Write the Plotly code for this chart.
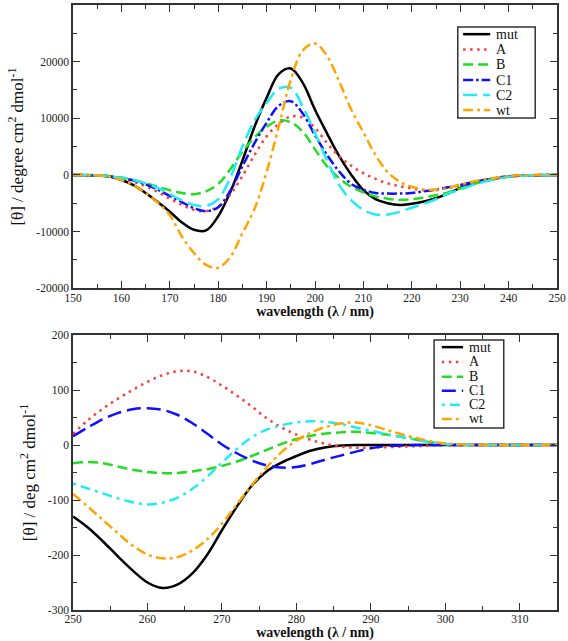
import plotly.graph_objects as go

# ---------------- data: far-UV (top panel) ----------------
wl_top = [150, 155, 157.5, 160, 162.5, 165, 167.5, 170, 172.5, 175, 177.5, 180, 182.5,
          185, 187.5, 190, 192.5, 195, 197.5, 200, 202.5, 205, 207.5, 210, 212.5, 215,
          217.5, 220, 222.5, 225, 227.5, 230, 232.5, 235, 240, 245, 250]
top_mut = [0, -100, -300, -900, -1800, -3200, -4800, -6500, -8400, -9700, -9800, -7300, -3000,
           2500, 8500, 13600, 17800, 18800, 16200, 11500, 7300, 3300, 0, -2700, -4300, -5000,
           -5300, -5100, -4700, -4100, -3300, -2300, -1600, -1000, -300, -50, 0]
top_A = [0, -100, -250, -600, -1200, -2000, -3000, -4200, -5300, -6200, -6400, -5600, -3500,
         -200, 3500, 6800, 9000, 10300, 10100, 8300, 5600, 3300, 1600, 300, -700, -1500,
         -2000, -2400, -2700, -2700, -2300, -1900, -1400, -900, -250, -50, 0]
top_B = [0, -80, -200, -450, -900, -1500, -2100, -2700, -3200, -3400, -2900, -1600, 1000,
         4100, 6600, 8500, 9600, 9300, 7600, 4500, 1500, -600, -2100, -3100, -3800, -4200,
         -4400, -4300, -4000, -3600, -3100, -2400, -1700, -1100, -300, -50, 0]
top_C1 = [0, -80, -250, -550, -1000, -1700, -2600, -3700, -4800, -5900, -6400, -5700, -2800,
          1500, 5600, 9200, 12200, 13000, 10800, 7000, 3500, 600, -1600, -2600, -3200, -3300,
          -3300, -3200, -2900, -2600, -2200, -1800, -1300, -900, -250, -50, 0]
top_C2 = [0, -80, -250, -500, -900, -1500, -2300, -3400, -4500, -5300, -5500, -4300, -500,
          5000, 9600, 12700, 15200, 15400, 12000, 7400, 2500, -1800, -4500, -6200, -7000, -7000,
          -6500, -5800, -5100, -4300, -3300, -2600, -1800, -1200, -350, -50, 0]
top_wt = [0, -100, -300, -900, -1800, -3200, -4900, -7100, -10900, -13800, -15900, -16400, -14500,
          -10300, -6000, 500, 8500, 16800, 22000, 23200, 21000, 16500, 11500, 7500, 3500, 500,
          -1200, -2100, -2600, -2600, -2300, -1700, -1200, -800, -200, -30, 0]

# ---------------- data: near-UV (bottom panel) ----------------
wl_bot = [250, 252, 254, 256, 258, 260, 262, 264, 266, 268, 270, 272, 274, 276, 278, 280,
          282, 284, 286, 288, 290, 292, 294, 296, 298, 300, 305, 310, 315]
bot_mut = [-130, -150, -175, -202, -228, -250, -260, -254, -234, -200, -155, -112, -74, -48,
           -32, -20, -10, -4, -1, 0, 0, 0, 0, 0, 0, 0, 0, 0, 0]
bot_A = [20, 45, 66, 84, 100, 115, 127, 134, 134, 124, 108, 90, 70, 49, 32, 19,
         9, 2, -3, -5, -5, -4, -3, -2, -1, 0, 0, 0, 0]
bot_B = [-33, -31, -33, -39, -45, -49, -51, -51, -48, -44, -38, -30, -20, -9, 2, 11,
         17, 21, 23, 24, 22, 19, 15, 10, 5, 2, 0, 0, 0]
bot_C1 = [16, 32, 47, 58, 65, 67, 64, 55, 40, 21, 1, -15, -28, -37, -41, -40,
          -34, -26, -19, -12, -6, -2, -1, 0, 0, 0, 0, 0, 0]
bot_C2 = [-70, -79, -88, -97, -104, -108, -105, -96, -80, -58, -32, -7, 14, 28, 36, 41,
          43, 42, 38, 32, 26, 20, 15, 10, 5, 2, 0, 0, 0]
bot_wt = [-89, -112, -136, -160, -183, -199, -206, -204, -192, -172, -143, -108, -73, -41, -13, 8,
          23, 33, 39, 41, 36, 28, 20, 13, 7, 3, 0, 0, 0]

series_names = ["mut", "A", "B", "C1", "C2", "wt"]
series_colors = ["#000000", "#ff3b3b", "#22dd22", "#1010ff", "#20ecf4", "#ffa500"]
top_dashes = ["solid", "2.5px,4.5px", "10px,5px", "10px,3px,2.5px,3px", "14px,6px", "10px,4px,3px,4px"]
bot_dashes = ["solid", "2.5px,4.5px", "10px,5px", "14px,6px", "3px,5px,10px,5px", "10px,4px,3px,4px"]

top_xticks = [150, 160, 170, 180, 190, 200, 210, 220, 230, 240, 250]
top_yticks = [-20000, -10000, 0, 10000, 20000, 30000]
top_yticktext = ["-20000", "-10000", "0", "10000", "20000", "30000"]
bot_xticks = [250, 260, 270, 280, 290, 300, 310]
bot_yticks = [-300, -200, -100, 0, 100, 200]
bot_yticktext = ["-300", "-200", "-100", "0", "100", "200"]

FONT = "Liberation Serif, Times New Roman, serif"

fig = go.Figure()

top_series = [top_mut, top_A, top_B, top_C1, top_C2, top_wt]
bot_series = [bot_mut, bot_A, bot_B, bot_C1, bot_C2, bot_wt]

for name, col, dsh, ys in zip(series_names, series_colors, top_dashes, top_series):
    fig.add_trace(go.Scatter(x=wl_top, y=ys, name=name, mode="lines", showlegend=False,
                             line=dict(color=col, width=2.5, dash=dsh, shape="spline", smoothing=1.0),
                             xaxis="x", yaxis="y"))
for name, col, dsh, ys in zip(series_names, series_colors, bot_dashes, bot_series):
    fig.add_trace(go.Scatter(x=wl_bot, y=ys, name=name, mode="lines", showlegend=False,
                             line=dict(color=col, width=2.5, dash=dsh, shape="spline", smoothing=1.0),
                             xaxis="x2", yaxis="y2"))

# ---------------- hand-drawn legend boxes (domain coordinates) ----------------
def add_legend(xref, yref, box, rows_y, sample_x, text_x, dashes):
    fig.add_shape(type="rect", xref=xref, yref=yref, x0=box[0], x1=box[1], y0=box[2], y1=box[3],
                  line=dict(color="#333", width=1.5), fillcolor="white", layer="above")
    for name, col, dsh, yy in zip(series_names, series_colors, dashes, rows_y):
        fig.add_shape(type="line", xref=xref, yref=yref, x0=sample_x[0], x1=sample_x[1], y0=yy, y1=yy,
                      line=dict(color=col, width=2.5, dash=dsh), layer="above")
        fig.add_annotation(xref=xref, yref=yref, x=text_x, y=yy, text=name, showarrow=False,
                           xanchor="left", yanchor="middle", borderpad=0,
                           font=dict(family=FONT, size=14, color="#111"))

add_legend("x domain", "y domain", (0.795, 0.955, 0.601, 0.922),
           [0.897, 0.843, 0.790, 0.735, 0.682, 0.629], (0.806, 0.862), 0.872, top_dashes)
add_legend("x2 domain", "y2 domain", (0.746, 0.890, 0.662, 0.982),
           [0.956, 0.902, 0.848, 0.797, 0.746, 0.695], (0.762, 0.806), 0.816, bot_dashes)

axis_common = dict(showline=True, linecolor="#333", linewidth=1.5, mirror="ticks",
                   ticks="inside", ticklen=7, tickcolor="#333", tickwidth=1.2,
                   showgrid=False, zeroline=False, automargin=False,
                   tickfont=dict(family=FONT, size=11.5, color="#222"))
minor_common = dict(ticks="inside", ticklen=4, tickcolor="#333", tickwidth=1.2, showgrid=False)

xtitle_font = dict(family=FONT, size=14, color="#111")
ytitle_font = dict(family=FONT, size=17, color="#111")

fig.update_layout(
    width=568, height=641,
    margin=dict(l=73, r=11, t=5, b=31),
    paper_bgcolor="white", plot_bgcolor="white",
    showlegend=False,
    xaxis=dict(domain=[0, 1], anchor="y", range=[150, 250], tickvals=top_xticks,
               minor=dict(dtick=5, **minor_common), ticklabelstandoff=-2,
               title=dict(text="<b>wavelength (λ / nm)</b>", font=xtitle_font, standoff=0),
               **axis_common),
    yaxis=dict(domain=[0.532, 1], anchor="x", range=[-20000, 30000],
               tickvals=top_yticks, ticktext=top_yticktext,
               minor=dict(dtick=5000, **minor_common),
               title=dict(text="[θ] / degree cm<sup>2</sup> dmol<sup>-1</sup>", font=ytitle_font, standoff=8),
               **axis_common),
    xaxis2=dict(domain=[0, 1], anchor="y2", range=[250, 315], tickvals=bot_xticks,
                minor=dict(dtick=5, **minor_common), ticklabelstandoff=-3,
                title=dict(text="<b>wavelength (λ / nm)</b>", font=xtitle_font, standoff=1),
                **axis_common),
    yaxis2=dict(domain=[0, 0.4545], anchor="x2", range=[-300, 200],
                tickvals=bot_yticks, ticktext=bot_yticktext,
                minor=dict(dtick=50, **minor_common),
                title=dict(text="[θ] / deg cm<sup>2</sup> dmol<sup>-1</sup>", font=ytitle_font, standoff=8),
                **axis_common),
)

fig.write_html("out.html", config={"displayModeBar": False},
               post_script="document.body.style.margin='0';")
